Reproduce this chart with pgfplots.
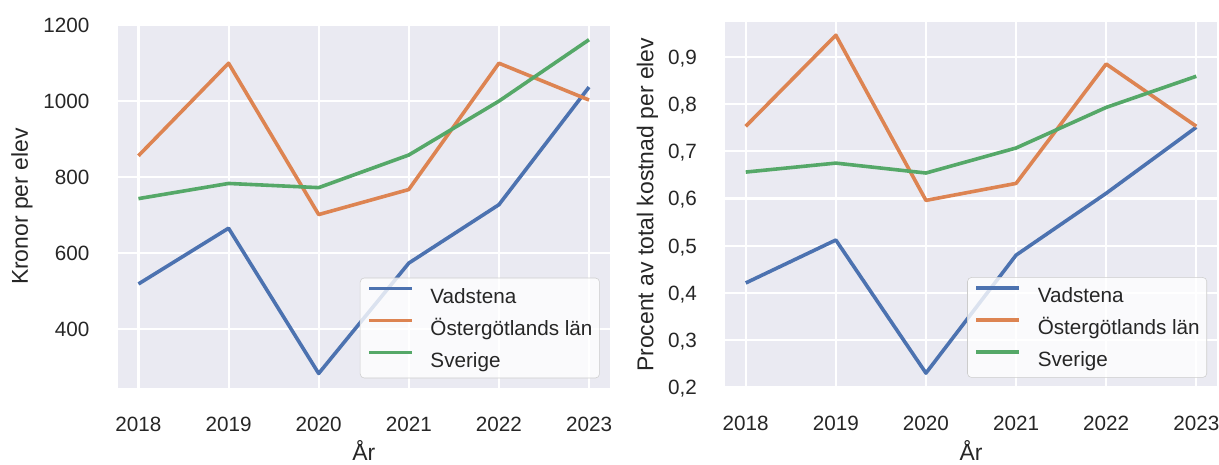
\documentclass[border=0pt]{standalone}
\usepackage{fontspec}
\setmainfont{Liberation Sans}
\usepackage{pgfplots}
\pgfplotsset{compat=1.18}
\definecolor{sbblue}{HTML}{4C72B0}
\definecolor{sborange}{HTML}{DD8452}
\definecolor{sbgreen}{HTML}{55A868}
\definecolor{sbbg}{HTML}{EAEAF2}
\definecolor{sbtext}{HTML}{262626}
\newcommand{\fs}{\fontsize{15.5}{18.6}\selectfont}
\newcommand{\fl}{\fontsize{17.2}{20.6}\selectfont}
\pgfplotsset{
 sb/.style={
  scale only axis, width=369pt,
  xmin=2017.77, xmax=2023.23,
  xtick={2018,2019,2020,2021,2022,2023},
  axis background/.style={fill=sbbg},
  axis line style={draw=none},
  major tick length=0pt,
  grid=major, major grid style={white, line width=1.6pt},
  tick label style={font=\fs, text=sbtext},
  /pgf/number format/assume math mode=true,
  xticklabel style={/pgf/number format/1000 sep={}, anchor=center, inner sep=0pt, yshift=-27pt},
  yticklabel style={anchor=base east, inner sep=0pt, xshift=-21pt, yshift=-5.55pt},
  label style={font=\fl, text=sbtext},
  xlabel={År},
  xlabel style={at={(axis description cs:0.5,0)}, anchor=base, inner sep=0pt, yshift=-54.5pt},
  legend cell align=left,
  legend style={at={(1,0)}, anchor=south east, xshift=-7.5pt, yshift=7.5pt,
    fill=white, fill opacity=0.8, text opacity=1, draw=black!20, draw opacity=1,
    rounded corners=3pt, font=\fs, text=sbtext, inner xsep=5.25pt, inner ysep=1.5pt,
    row sep=0pt,
    nodes={inner sep=0pt, text height=17.5pt, text depth=6.5pt},
    /tikz/every odd column/.append style={column sep=12.75pt}},
  legend image code/.code={\draw[#1] (0pt,5.5pt) -- (32pt,5.5pt);},
  every axis plot/.append style={line width=2.7pt, line join=round},
 }
}
\begin{document}
\begin{tikzpicture}
\useasboundingbox (0,0) rectangle (914.25pt,348pt);
\begin{axis}[sb, at={(88.3pt,56.8pt)}, anchor=south west, height=272.5pt,
  ymin=243, ymax=1201, ytick={400,600,800,1000,1200},
  yticklabel style={/pgf/number format/1000 sep={}},
  ylabel={Kronor per elev},
  ylabel style={at={(axis description cs:-0.1945,0.5)}, anchor=center}]
\addplot[sbblue] coordinates {(2018,518) (2019,665) (2020,282) (2021,573) (2022,727) (2023,1037)};
\addlegendentry{Vadstena}
\addplot[sborange] coordinates {(2018,856) (2019,1100) (2020,701) (2021,767) (2022,1100) (2023,1003)};
\addlegendentry{Östergötlands län}
\addplot[sbgreen] coordinates {(2018,743) (2019,783) (2020,772) (2021,858) (2022,1000) (2023,1162)};
\addlegendentry{Sverige}
\end{axis}
\begin{axis}[sb, at={(543.75pt,57.2pt)}, anchor=south west, height=274.3pt,
  ymin=0.199, ymax=0.974, ytick={0.2,0.3,0.4,0.5,0.6,0.7,0.8,0.9},
  yticklabel style={/pgf/number format/.cd, use comma, fixed, fixed zerofill, precision=1},
  ylabel={Procent av total kostnad per elev},
  ylabel style={at={(axis description cs:-0.1575,0.5)}, anchor=center}]
\addplot[sbblue] coordinates {(2018,0.421) (2019,0.512) (2020,0.230) (2021,0.480) (2022,0.611) (2023,0.751)};
\addlegendentry{Vadstena}
\addplot[sborange] coordinates {(2018,0.753) (2019,0.946) (2020,0.596) (2021,0.632) (2022,0.885) (2023,0.753)};
\addlegendentry{Östergötlands län}
\addplot[sbgreen] coordinates {(2018,0.656) (2019,0.675) (2020,0.654) (2021,0.707) (2022,0.793) (2023,0.859)};
\addlegendentry{Sverige}
\end{axis}
\end{tikzpicture}
\end{document}
